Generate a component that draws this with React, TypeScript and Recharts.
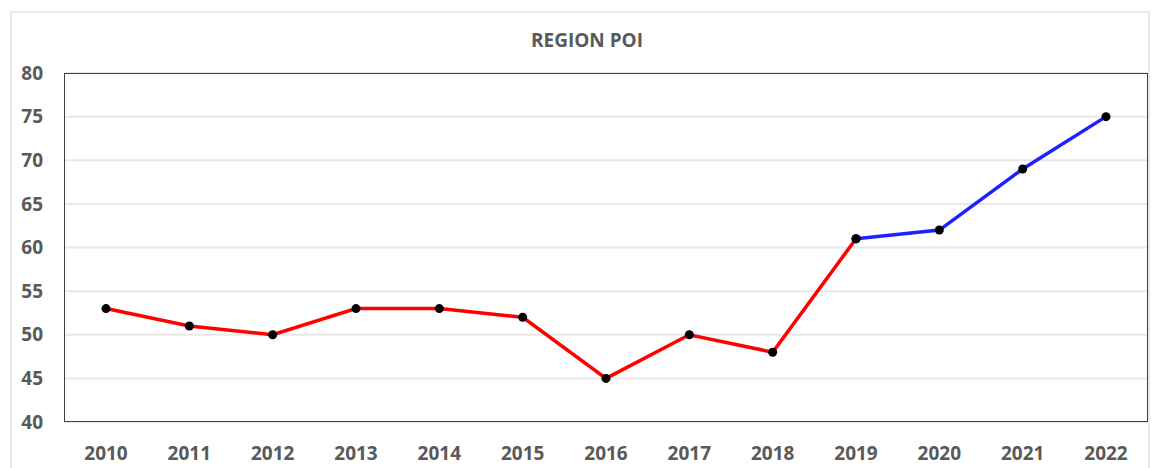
import React from "react";
import { LineChart, Line, XAxis, YAxis, CartesianGrid } from "recharts";

const years = ["2010","2011","2012","2013","2014","2015","2016","2017","2018","2019","2020","2021","2022"];
const values = [53, 51, 50, 53, 53, 52, 45, 50, 48, 61, 62, 69, 75];
const splitYear = "2019";
const yTicks = [40, 45, 50, 55, 60, 65, 70, 75, 80];
const title = "REGION POI";

const splitIdx = years.indexOf(splitYear);
const data = years.map((y, i) => ({
  year: y,
  red: i <= splitIdx ? values[i] : null,
  blue: i >= splitIdx ? values[i] : null,
}));

const tickStyle = { fill: "#595959", fontSize: 19, fontWeight: 700, fontFamily: "'Open Sans', sans-serif" };

const Dot = (props: any) => {
  const { cx, cy, value } = props;
  if (value == null || cx == null || cy == null) return null;
  return <circle cx={cx} cy={cy} r={4.5} fill="#000" stroke="none" />;
};

export default function App() {
  return (
    <div style={{ position: "fixed", left: 0, top: 0, width: 1152, height: 468, overflow: "hidden", background: "#fff" }}>
      <div style={{ position: "absolute", left: 10, top: 11, width: 1140, height: 480, border: "2px solid #e8e8e8", boxSizing: "border-box" }} />
      <div style={{ position: "absolute", left: 0, top: 0 }}>
        <LineChart width={1152} height={468} data={data} margin={{ top: 73, right: 4, bottom: 0, left: 0 }}>
          <text x={587} y={40} textAnchor="middle" dominantBaseline="central" style={{ fill: "#595959", fontSize: 19, fontWeight: 700, fontFamily: "'Open Sans', sans-serif" }}>{title}</text>
          <CartesianGrid horizontal vertical={false} stroke="#e8e8e8" strokeWidth={2} />
          <XAxis dataKey="year" height={46} padding={{ left: 42, right: 42 }} tickLine={false} axisLine={false} tickSize={0} tickMargin={25} tick={tickStyle} interval={0} />
          <YAxis width={64} domain={[40, 80]} ticks={yTicks} tickLine={false} axisLine={false} tickSize={0} tickMargin={21} tick={tickStyle} interval={0} />
          <Line dataKey="red" stroke="#ff0000" strokeWidth={3.5} dot={<Dot />} isAnimationActive={false} connectNulls={false} />
          <Line dataKey="blue" stroke="#2020ff" strokeWidth={3.5} dot={<Dot />} isAnimationActive={false} connectNulls={false} />
        </LineChart>
      </div>
      <div style={{ position: "absolute", left: 64, top: 73, width: 1084, height: 349, border: "1.5px solid #404040", boxSizing: "border-box", pointerEvents: "none" }} />
    </div>
  );
}
